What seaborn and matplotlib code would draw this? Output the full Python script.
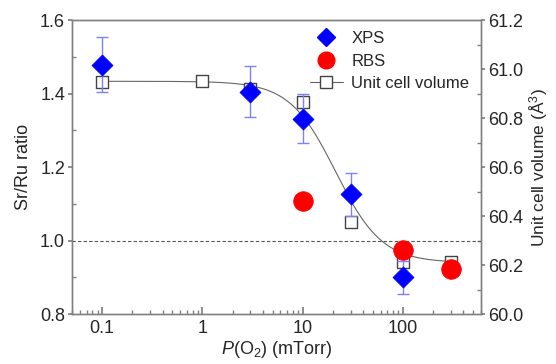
import numpy as np
import pandas as pd
import matplotlib
matplotlib.use("Agg")
import matplotlib.pyplot as plt
from matplotlib.lines import Line2D
from matplotlib.ticker import LogLocator, NullFormatter, FixedLocator, MultipleLocator
import seaborn as sns

# ---- data ----
xps_p = [0.1, 3, 10, 30, 100]
xps_ratio = [1.479, 1.405, 1.332, 1.126, 0.900]
xps_err = [0.074, 0.070, 0.066, 0.058, 0.045]

rbs_p = [10, 100, 300]
rbs_ratio = [1.109, 0.974, 0.922]

vol_p = [0.1, 1, 3, 10, 30, 100, 300]
vol_val = [60.948, 60.950, 60.917, 60.867, 60.377, 60.211, 60.212]

# Boltzmann fit parameters (in log10 pressure)
fit_A1, fit_A2, fit_x0, fit_dx = 60.95, 60.21, 1.33, 0.23

sns.set_theme(style="white")
plt.rcParams['font.family'] = ['Liberation Sans', 'DejaVu Sans']
plt.rcParams['mathtext.fontset'] = 'custom'
plt.rcParams['mathtext.rm'] = 'Liberation Sans'
plt.rcParams['mathtext.it'] = 'Liberation Sans:italic'

fig = plt.figure(figsize=(5.56, 3.64), dpi=100)
ax = fig.add_axes([0.1295, 0.137, 0.7355, 0.808])
ax2 = ax.twinx()

spine_c = '#808080'
for a in (ax, ax2):
    for s in a.spines.values():
        s.set_color(spine_c)
        s.set_linewidth(1.0)

# fit curve
lx = np.linspace(np.log10(0.1), np.log10(300), 300)
fit_df = pd.DataFrame({'p': 10 ** lx,
                       'v': fit_A2 + (fit_A1 - fit_A2) / (1 + np.exp((lx - fit_x0) / fit_dx))})
sns.lineplot(data=fit_df, x='p', y='v', ax=ax2, color='#666666', lw=0.8, zorder=1)
sns.scatterplot(x=vol_p, y=vol_val, ax=ax2, marker='s', s=85, facecolor='white',
                edgecolor='#444444', linewidth=1.0, zorder=2)

# dashed reference
ax.axhline(1.0, color='#555555', lw=0.8, ls=(0, (3, 2)), zorder=0)

ax.errorbar(xps_p, xps_ratio, yerr=xps_err, fmt='none', ecolor='#8080ff',
            elinewidth=1.0, capsize=4, capthick=1.0, zorder=3)
sns.scatterplot(x=xps_p, y=xps_ratio, ax=ax, marker='D', s=115, color='#0000ff',
                edgecolor='#0000ff', linewidth=0.5, zorder=4)
sns.scatterplot(x=rbs_p, y=rbs_ratio, ax=ax, marker='o', s=200, color='#ff0000',
                edgecolor='#ff0000', linewidth=0.5, zorder=4)

ax.set_zorder(ax2.get_zorder() + 1)
ax.patch.set_visible(False)

ax.set_xscale('log')
ax.set_xlim(0.05, 600)

ax.xaxis.set_major_locator(FixedLocator([0.1, 1, 10, 100]))
ax.set_xticklabels(['0.1', '1', '10', '100'])
ax.xaxis.set_minor_locator(LogLocator(base=10, subs=np.arange(2, 10), numticks=20))
ax.xaxis.set_minor_formatter(NullFormatter())
ax.set_yticks(np.round(np.arange(0.8, 1.61, 0.2), 1))
ax.set_yticklabels([f'{v:.1f}' for v in np.arange(0.8, 1.61, 0.2)])
ax.yaxis.set_minor_locator(MultipleLocator(0.1))
ax2.set_yticks(np.round(np.arange(60.0, 61.21, 0.2), 1))
ax2.set_yticklabels([f'{v:.1f}' for v in np.arange(60.0, 61.21, 0.2)])
ax2.yaxis.set_minor_locator(MultipleLocator(0.1))
ax.set_ylim(0.8, 1.6)
ax2.set_ylim(60.0, 61.2)

fs = 13
ax.tick_params(axis='x', which='major', direction='in', length=5, color=spine_c,
               labelsize=fs, pad=4, bottom=True, top=False)
ax.tick_params(axis='x', which='minor', direction='in', length=3, color=spine_c,
               bottom=True, top=False)
ax.tick_params(axis='y', which='major', direction='out', length=3, color=spine_c,
               labelsize=fs, left=True, right=False, pad=2)
ax.tick_params(axis='y', which='minor', direction='in', length=3, color=spine_c,
               left=True, right=False)
ax2.tick_params(axis='y', which='major', direction='out', length=3, color=spine_c,
                labelsize=fs, right=True, pad=2)
ax2.tick_params(axis='y', which='minor', direction='in', length=3, color=spine_c,
                right=True)

ax.set_xlabel(r'$\mathit{P}$(O$_2$) (mTorr)', fontsize=fs, labelpad=2)
ax.set_ylabel('Sr/Ru ratio', fontsize=fs, labelpad=6)
ax2.set_ylabel('Unit cell volume (Å$^3$)', fontsize=12.5, labelpad=3)

handles = [
    Line2D([], [], ls='none', marker='D', color='#0000ff', markersize=9),
    Line2D([], [], ls='none', marker='o', color='#ff0000', markersize=12),
    Line2D([], [], ls='-', lw=0.8, color='#666666', marker='s', markersize=8,
           markerfacecolor='white', markeredgecolor='#444444'),
]
ax.legend(handles, ['XPS', 'RBS', 'Unit cell volume'], loc='upper left',
          bbox_to_anchor=(0.565, 0.985), frameon=False, fontsize=12,
          handlelength=2.0, handletextpad=0.5, labelspacing=0.45, borderaxespad=0)

fig.savefig('out.png', dpi=100)
